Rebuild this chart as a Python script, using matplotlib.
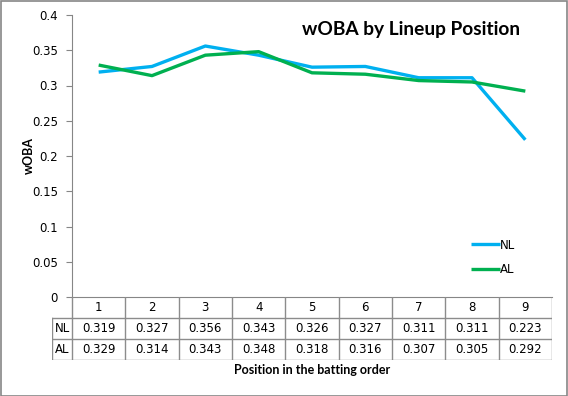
import matplotlib
matplotlib.use("Agg")
import matplotlib.pyplot as plt
from matplotlib.patches import Rectangle

positions = ["1", "2", "3", "4", "5", "6", "7", "8", "9"]
nl = [0.319, 0.327, 0.356, 0.343, 0.326, 0.327, 0.311, 0.311, 0.223]
al = [0.329, 0.314, 0.343, 0.348, 0.318, 0.316, 0.307, 0.305, 0.292]
series_names = ["NL", "AL"]
colors = ["#00B0F0", "#00B050"]
yticks = [0, 0.05, 0.1, 0.15, 0.2, 0.25, 0.3, 0.35, 0.4]
ytick_labels = ["0", "0.05", "0.1", "0.15", "0.2", "0.25", "0.3", "0.35", "0.4"]

W, H = 568, 396
fig = plt.figure(figsize=(W / 100, H / 100), dpi=100)
plt.rcParams['font.family'] = ['DejaVu Sans']
gray = "#868686"

def fx(px):
    return px / W

def fy(py):
    return 1 - py / H

# plot area
L, R, T, B = 72, 552, 15, 297
ax = fig.add_axes([fx(L), fy(B), fx(R) - fx(L), fy(T) - fy(B)])
xs = list(range(1, len(positions) + 1))
for vals, name, c in zip([nl, al], series_names, colors):
    ax.plot(xs, vals, color=c, lw=2.4, label=name, solid_capstyle='butt')
ax.set_xlim(0.5, len(positions) + 0.5)
ax.set_ylim(0, 0.4)
ax.set_yticks(yticks)
ax.set_yticklabels(ytick_labels, fontsize=8.5)
ax.set_xticks([])
for s in ["top", "right"]:
    ax.spines[s].set_visible(False)
ax.spines["left"].set_color(gray)
ax.spines["bottom"].set_color(gray)
ax.tick_params(axis='y', direction='out', length=4, color=gray, pad=6)

leg = ax.legend(loc='upper left', bbox_to_anchor=(0.81, 0.245), frameon=False,
                handlelength=2.4, handletextpad=0.0, labelspacing=1.0, fontsize=8.5)

fig.text(fx(411), fy(30), "wOBA by Lineup Position", fontsize=13.8, fontweight='bold',
         ha='center', va='center', family=['Lato', 'DejaVu Sans'])
fig.text(fx(29), fy(156), "wOBA", fontsize=9, fontweight='bold', rotation=90,
         ha='center', va='center', family=['Lato', 'DejaVu Sans'])

# data table
TL = 52
row_h = 21
tax = fig.add_axes([fx(TL), fy(B + 3 * row_h), fx(R) - fx(TL), fy(B) - fy(B + 3 * row_h)])
colw = (R - L) / len(positions)
x0 = 0.5 - (L - TL) / colw
tax.set_xlim(x0, len(positions) + 0.5)
tax.set_ylim(3, 0)
tax.axis('off')
lc = "#8c8c8c"
tax.plot([x0, len(positions) + 0.5], [1, 1], color=lc, lw=1)
tax.plot([x0, len(positions) + 0.5], [2, 2], color=lc, lw=1)
tax.plot([x0, len(positions) + 0.5], [3, 3], color=lc, lw=1)
for i in range(len(positions) + 1):
    tax.plot([0.5 + i, 0.5 + i], [0, 3], color=lc, lw=1)
tax.plot([x0, x0], [1, 3], color=lc, lw=1)
for i, p in enumerate(positions):
    tax.text(i + 1, 0.5, p, ha='center', va='center', fontsize=8.5)
    tax.text(i + 1, 1.5, f"{nl[i]:.3f}", ha='center', va='center', fontsize=8.5)
    tax.text(i + 1, 2.5, f"{al[i]:.3f}", ha='center', va='center', fontsize=8.5)
for r, name in enumerate(series_names):
    tax.text((x0 + 0.5) / 2, 1.5 + r, name, ha='center', va='center', fontsize=8.5)

fig.text(fx((L + R) / 2), fy(370), "Position in the batting order", ha='center', va='center',
         fontsize=9, fontweight='bold', family=['Lato', 'DejaVu Sans'])

fig.patches.append(Rectangle((0.001, 0.001), 0.997, 0.997, transform=fig.transFigure,
                             fill=False, edgecolor=gray, lw=1.2))

fig.savefig("out.png", dpi=100)
